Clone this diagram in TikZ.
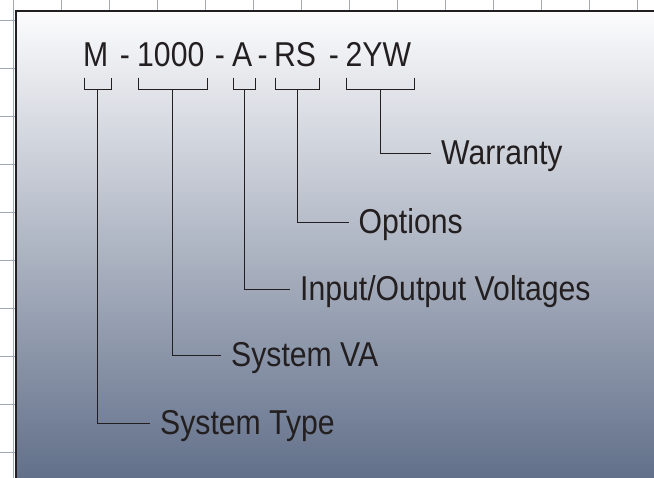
\documentclass[tikz,border=0pt]{standalone}
\usepackage{fontspec}
\setmainfont{Liberation Sans}[FakeStretch=0.875]
\usepackage{tikz}
\usetikzlibrary{positioning}
\definecolor{inkdark}{RGB}{35,31,32}
\definecolor{gridcol}{RGB}{160,168,186}
\definecolor{paneltop}{RGB}{252,252,253}
\definecolor{panelmid}{RGB}{178,184,199}
\definecolor{panelbot}{RGB}{98,112,138}
\tikzset{
  part/.style={inner sep=0pt, anchor=base west, text=inkdark, font=\fontsize{34.5}{40}\selectfont},
  dash sign/.style={inner sep=0pt, anchor=base, text=inkdark, font=\fontsize{34.5}{40}\selectfont},
  lbl/.style={inner sep=0pt, anchor=base west, text=inkdark, font=\fontsize{34.5}{40}\selectfont},
  brace line/.style={draw=inkdark, line width=1pt},
  gridline/.style={draw=gridcol, line width=0.9pt}
}

\begin{document}
\begin{tikzpicture}[x=1pt, y=-1pt]
  \useasboundingbox (0,0) rectangle (654,478);

  % 背景网格
  \foreach \i in {0,...,13}
    \draw[gridline] (13.8+47.95*\i,0) -- (13.8+47.95*\i,478);
  \foreach \j in {0,...,9}
    \draw[gridline] (0,20.5+48*\j) -- (654,20.5+48*\j);

  % 渐变面板
  \shade[top color=paneltop, middle color=panelmid, bottom color=panelbot]
    (16,11) rectangle (654,478);
  \draw[inkdark, line width=1.4pt] (654,11) -- (16,11) -- (16,478);

  % 型号各段
  \node[part] (pM)   at (83,66.7)    {M};
  \node[dash sign] (d1) at (125,66.7)   {-};
  \node[part] (pVA)  at (137,66.7)   {1000};
  \node[dash sign] (d2) at (220,66.7)   {-};
  \node[part] (pIO)  at (232,66.7)   {A};
  \node[dash sign] (d3) at (262.7,66.7) {-};
  \node[part] (pOpt) at (274,66.7)   {RS};
  \node[dash sign] (d4) at (334,66.7)   {-};
  \node[part] (pWar) at (345.5,66.7) {2YW};

  % 说明文字
  \node[lbl] (lWar)  at (441,165)   {Warranty};
  \node[lbl] (lOpt)  at (358.5,233.7) {Options};
  \node[lbl] (lIO)   at (300,300.3) {Input/Output Voltages};
  \node[lbl] (lVA)   at (231,366.7) {System VA};
  \node[lbl] (lType) at (160,434.3) {System Type};

  % 括号
  \foreach \p in {pM,pVA,pIO,pOpt,pWar}
    \draw[brace line] ([xshift=1pt,yshift=-11pt]\p.base west) -- ++(0,11.5)
      -| ([xshift=3pt,yshift=-11pt]\p.base east) coordinate[pos=0.25] (\p-b);

  % 引线
  \foreach \p/\l in {pM/lType,pVA/lVA,pIO/lIO,pOpt/lOpt,pWar/lWar}
    \draw[brace line] (\p-b) |- ([xshift=-10pt,yshift=11pt]\l.base west);
\end{tikzpicture}
\end{document}
